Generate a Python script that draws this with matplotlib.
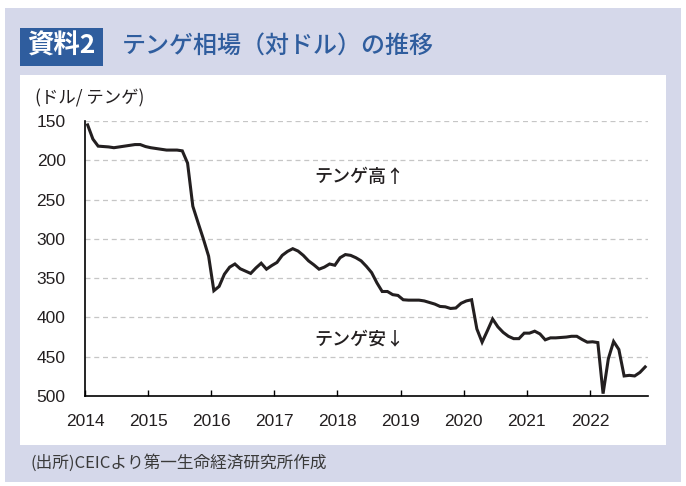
import matplotlib
matplotlib.use("Agg")
import matplotlib.pyplot as plt
from matplotlib.patches import Rectangle

plt.rcParams['font.family'] = ['Noto Sans CJK JP', 'DejaVu Sans']

W, H = 686, 486

# tenge per dollar, monthly, Jan 2014 - Nov 2022
kzt_2014 = [155, 173, 182, 182.5, 183, 184, 183, 182, 181, 180, 180, 182.5]
kzt_2015 = [184, 185, 186, 187, 187, 187, 188, 203.6, 258.5, 279.5, 300, 322]
kzt_2016 = [366, 360.5, 345, 336, 332, 338, 341, 344, 337, 331, 338.6, 334]
kzt_2017 = [330, 321, 316, 312.5, 315.5, 321, 328, 333, 338.6, 336, 332, 333.6]
kzt_2018 = [324, 320, 321, 324, 328, 335, 343, 356, 367, 367, 371, 372]
kzt_2019 = [377.5, 378, 378, 378, 379, 381, 383, 386, 386.5, 388.6, 388, 382]
kzt_2020 = [379, 377.5, 414.6, 431.5, 417, 402, 412, 419, 424, 427, 427, 420]
kzt_2021 = [420, 417.5, 421, 428.5, 426, 426, 425.5, 425, 424, 424, 428, 431.5]
kzt_2022 = [431, 432, 497, 452.6, 430.6, 440.8, 474.5, 473.7, 474.5, 470, 463]

years = [2014, 2015, 2016, 2017, 2018, 2019, 2020, 2021, 2022]
y_ticks = [150, 200, 250, 300, 350, 400, 450, 500]

kzt = kzt_2014 + kzt_2015 + kzt_2016 + kzt_2017 + kzt_2018 + kzt_2019 + kzt_2020 + kzt_2021 + kzt_2022
t = [2014 + (i + 0.5) / 12 for i in range(len(kzt))]

fig = plt.figure(figsize=(W / 100, H / 100), dpi=100)

def box(x0, y0, x1, y1, color):
    fig.patches.append(Rectangle((x0 / W, 1 - y1 / H), (x1 - x0) / W, (y1 - y0) / H,
                                 transform=fig.transFigure, facecolor=color,
                                 edgecolor='none', zorder=-10))

def label(x, y, s, **kw):
    fig.text(x / W, 1 - y / H, s, **kw)

# backgrounds
box(5, 8, 681, 482, '#d5d8ea')
box(20, 75, 666, 445, 'white')
box(20, 28, 103, 66, '#2f5d9e')

# title
label(61, 46, '資料2', color='white', fontsize=19, fontweight='bold', ha='center', va='center')
label(122, 46, 'テンゲ相場（対ドル）の推移', color='#2f5d9e', fontsize=17.3, fontweight='medium',
      ha='left', va='center')

ax = fig.add_axes([85 / W, 1 - 396 / H, 563 / W, 275 / H])
ax.plot(t, kzt, color='#231f20', lw=2.2, solid_joinstyle='miter', zorder=3)

ax.set_xlim(2014, 2022.92)
ax.set_ylim(500, 150)
ax.set_yticks(y_ticks)
ax.set_xticks(years)
ax.set_xticklabels([str(y) for y in years])

for v in y_ticks[:-1]:
    ax.axhline(v, color='#c6c6c6', lw=0.9, ls=(0, (4, 3)), zorder=1)

ax.spines['top'].set_visible(False)
ax.spines['right'].set_visible(False)
ax.spines['left'].set_linewidth(1.2)
ax.spines['bottom'].set_linewidth(1.2)

ax.tick_params(axis='y', length=0, pad=14, labelcolor='#231f20')
ax.tick_params(axis='x', direction='in', length=4.5, width=1, pad=13, labelcolor='#231f20')
for lab in ax.get_xticklabels() + ax.get_yticklabels():
    lab.set_family(['Liberation Sans Narrow', 'Liberation Sans', 'DejaVu Sans'])
    lab.set_fontsize(12.5)

label(35, 98, '(ドル/ テンゲ)', color='#231f20', fontsize=12.5, ha='left', va='center')
label(314, 177, 'テンゲ高↑', color='#231f20', fontsize=13, fontweight='medium', ha='left', va='center')
label(314, 340, 'テンゲ安↓', color='#231f20', fontsize=13, fontweight='medium', ha='left', va='center')

label(30, 463, '(出所)CEICより第一生命経済研究所作成', color='#3a3a3a', fontsize=12, ha='left', va='center')

fig.savefig('out.png', dpi=100)
